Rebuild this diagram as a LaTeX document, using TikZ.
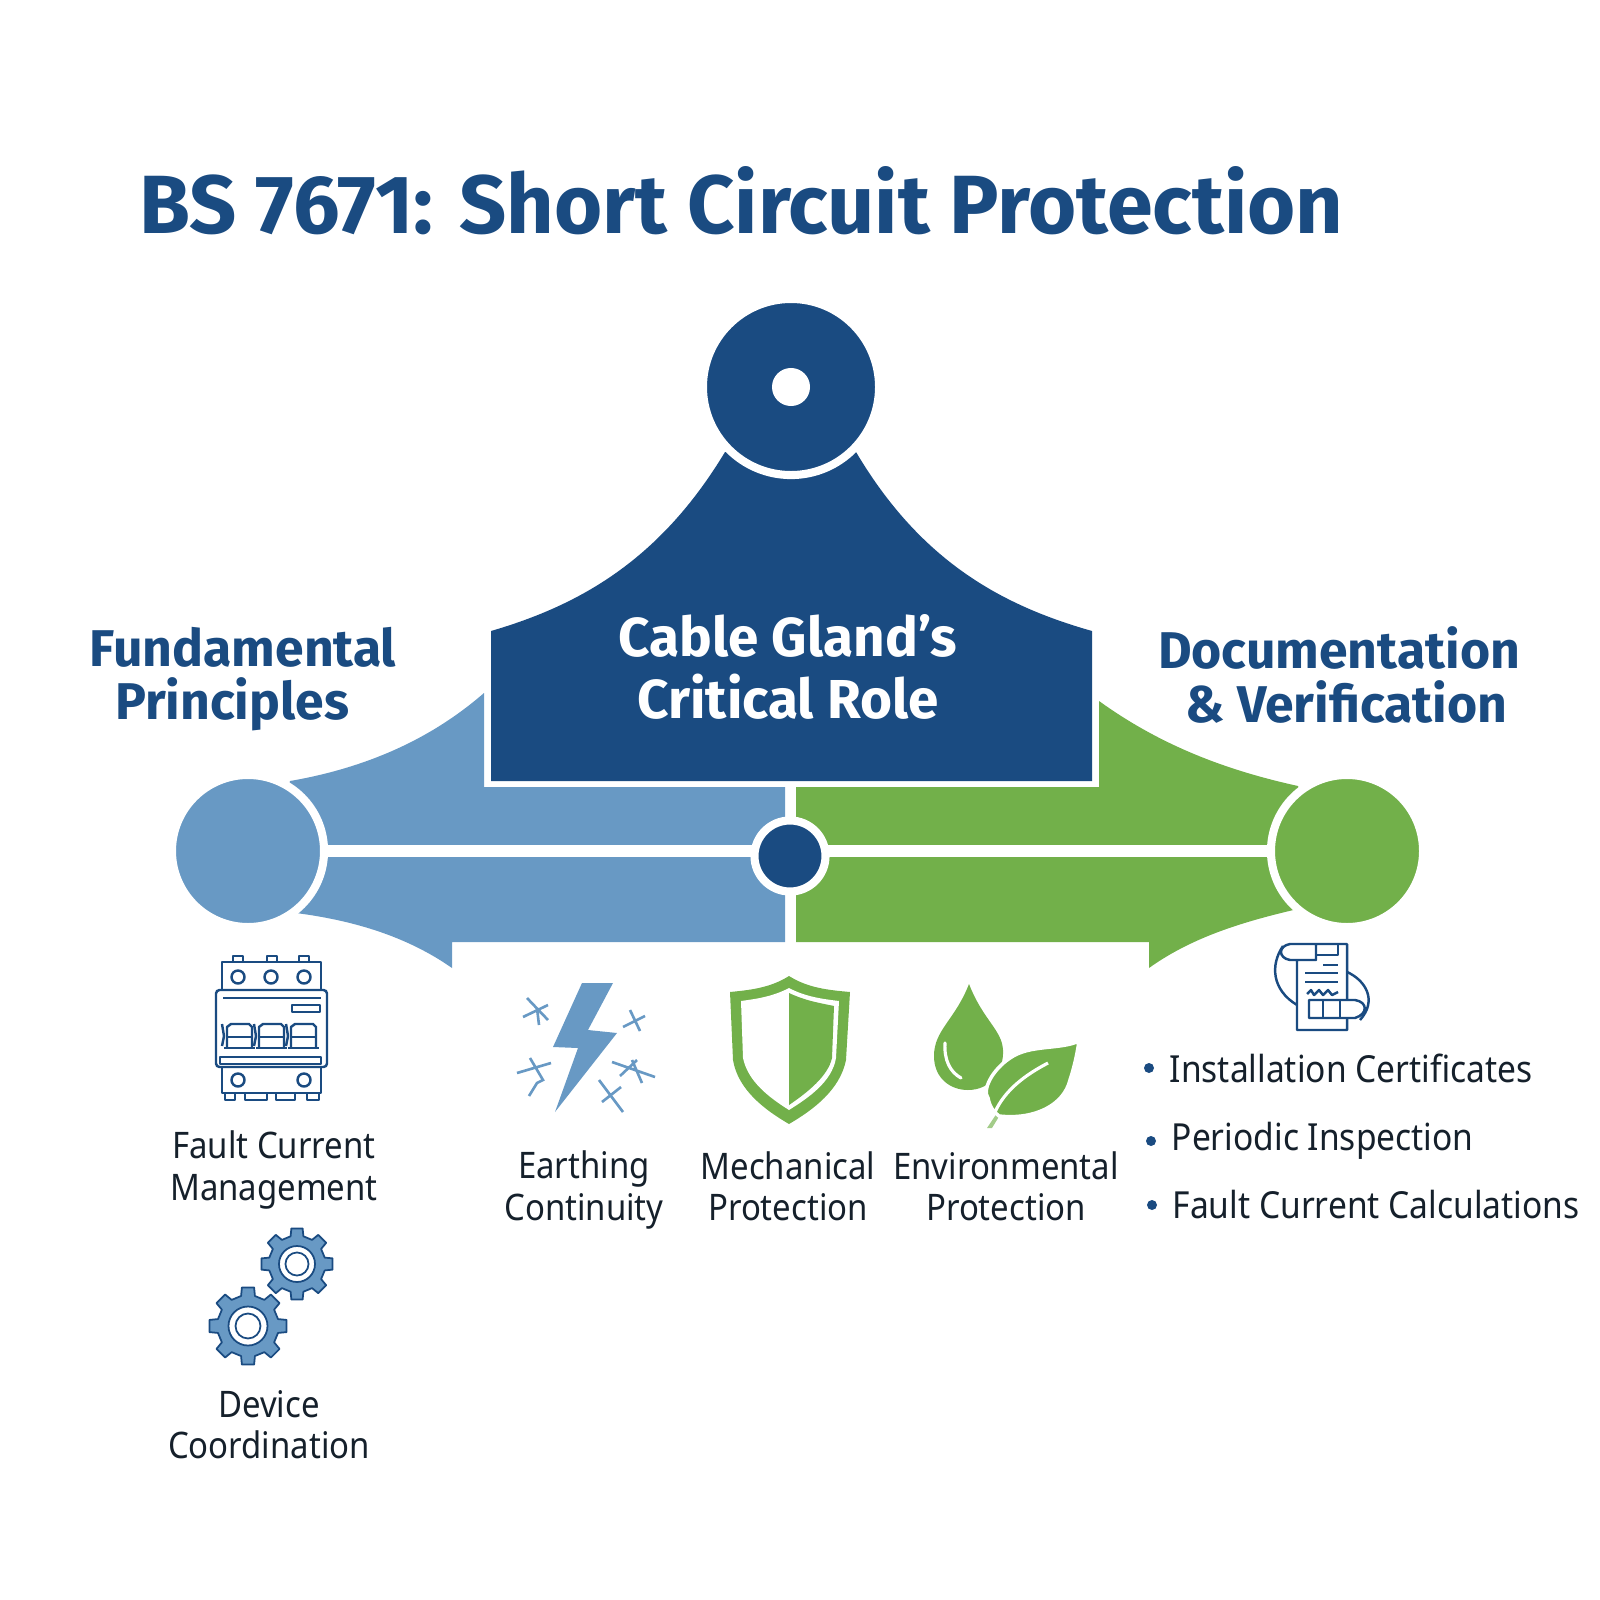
\documentclass[tikz,border=0pt]{standalone}
\usepackage{xcolor}
\usepackage{fontspec}
\setmainfont[FakeStretch=0.9]{Noto Sans}
\newfontfamily\headfont{Fira Sans}
\usepackage{tikz}
\usetikzlibrary{positioning}
\definecolor{DeepNavy}{HTML}{1A4B81}
\definecolor{SteelBlue}{HTML}{6899C4}
\definecolor{LeafGreen}{HTML}{72B04A}
\definecolor{InkBlack}{HTML}{15202B}
\tikzset{
  titletext/.style={font=\headfont\bfseries\fontsize{23.5}{27}\selectfont, text=DeepNavy, inner sep=0pt, anchor=west},
  headtext/.style={font=\headfont\bfseries\fontsize{14.7}{15.2}\selectfont, text=DeepNavy, align=center, inner sep=0pt},
  roletext/.style={font=\headfont\bfseries\fontsize{15.6}{17.4}\selectfont, text=white, align=center, inner sep=0pt},
  itemtext/.style={font=\fontsize{10.4}{11.7}\selectfont, text=InkBlack, align=center, inner sep=0pt},
  listtext/.style={font=\fontsize{10.6}{13}\selectfont, text=InkBlack, anchor=west, inner sep=0pt},
  listdot/.style={circle, fill=DeepNavy, minimum size=0.1cm, inner sep=0pt, outer sep=0pt},
  hub/.style={circle, draw=white, line width=2.3pt, inner sep=0pt, outer sep=0pt},
  gapline/.style={draw=white, line width=3.4pt},
  iconline/.style={draw=DeepNavy, line width=0.7pt, line join=round},
  sparkline/.style={draw=SteelBlue, line width=0.75pt},
  gearbody/.style={fill=SteelBlue, draw=DeepNavy, line width=0.5pt, line join=round},
}
\newcommand{\gearicon}[3]{% x, y, outer radius
  \begin{scope}[shift={(#1,#2)}]
    \draw[gearbody] ({-9}:#3) \foreach \a in {0,45,...,315} {
      -- ({\a-9}:#3) -- ({\a+9}:#3) -- ({\a+13}:#3*0.79) -- ({\a+32}:#3*0.79)} -- cycle;
    \draw[draw=DeepNavy, fill=white, line width=0.5pt] (0,0) circle (#3*0.5);
    \draw[draw=DeepNavy, fill=white, line width=0.5pt] (0,0) circle (#3*0.32);
  \end{scope}
}
\begin{document}
\begin{tikzpicture}[x=0.01cm, y=-0.01cm, node distance=0.15cm]
  \useasboundingbox (0,0) rectangle (1600,1600);
  \node[titletext] (title) at (139,201) {BS 7671: Short Circuit Protection};

  % arrows
  \fill[SteelBlue] (290,781) .. controls (365,768) and (430,740) .. (484,693) -- (484,787) -- (785,787)
    -- (785,942) -- (452,942) -- (452,968) .. controls (405,935) and (350,920) .. (296,913) -- (270,850) -- cycle;
  \fill[LeafGreen] (1298,786) .. controls (1225,770) and (1160,745) .. (1099,701) -- (1099,787) -- (796,787)
    -- (796,942) -- (1149,942) -- (1149,968) .. controls (1195,935) and (1250,920) .. (1302,908) -- (1320,850) -- cycle;
  % gland
  \fill[DeepNavy] (725,452) .. controls (660,560) and (580,605) .. (491,631) -- (491,781) -- (1092,781) -- (1092,631)
    .. controls (1000,605) and (920,560) .. (856,452) -- cycle;

  \node[hub, fill=DeepNavy, minimum size=1.76cm] (topHub) at (791,387) {};
  \node[circle, fill=white, minimum size=0.38cm, inner sep=0pt] (topDot) at (topHub) {};
  \node[hub, fill=SteelBlue, minimum size=1.52cm] (leftHub) at (248,851) {};
  \node[hub, fill=LeafGreen, minimum size=1.52cm] (rightHub) at (1347,851) {};
  \node[hub, fill=DeepNavy, minimum size=0.71cm] (midHub) at (790,856) {};
  \draw[gapline] (leftHub.east) -- (leftHub.east -| midHub.west);
  \draw[gapline] (midHub.east |- rightHub.west) -- (rightHub.west);

  \node[roletext] (role) at (788,667) {Cable Gland’s\\Critical Role};
  \node[headtext] (principles) at (243,679) {Fundamental\\Principles\hspace*{0.22cm}};
  \node[headtext] (records) at (1339,675) {Documentation\\\hspace*{0.15cm}\& Verification};

  % breaker
  \foreach \x in {233,267,299} \draw[iconline] (\x,962) -- (\x,956) -- (\x+10,956) -- (\x+10,962);
  \draw[iconline] (222,962) rectangle (321,990);
  \foreach \x in {238,271,304} \draw[iconline] (\x,977) circle (6.5);
  \draw[iconline, rounded corners=1pt] (216,990) rectangle (327,1067);
  \draw[iconline] (223,998) -- (321,998);
  \draw[iconline] (292,1005) rectangle (320,1012);
  \foreach \x in {227,259,291} {
    \draw[iconline] (\x,1048) -- (\x,1027) -- (\x+4,1024) -- (\x+22,1024) -- (\x+25,1027) -- (\x+25,1048);
    \draw[iconline] (\x,1037) -- (\x+25,1037);
    \draw[iconline] (\x-3,1048) -- (\x+28,1048);
    \draw[iconline] (\x-5,1024) -- (\x-3,1036) -- (\x-5,1046);
  }
  \draw[iconline] (220,1057) rectangle (321,1064);
  \draw[iconline] (222,1067) rectangle (321,1093);
  \foreach \x in {238,304} \draw[iconline] (\x,1080) circle (6.5);
  \foreach \x/\w in {225/10,245/22,276/19,307/12} \draw[iconline] (\x,1093) -- (\x,1100) -- (\x+\w,1100) -- (\x+\w,1093);
  \node[itemtext] (fault) at (274,1170) {Fault Current\\Management};

  \gearicon{297}{1264}{36}
  \gearicon{248}{1326}{39}
  \node[itemtext] (device) at (269,1425) {Device\\Coordination};

  % bolt
  \fill[SteelBlue] (582,983) -- (613,983) -- (588,1030) -- (617,1033) -- (555,1112) -- (578,1048) -- (553,1047) -- cycle;
  \draw[sparkline] (527,998) -- (548,1020) (523,1017) -- (548,1005) (537,1008) -- (539,1025);
  \draw[sparkline] (623,1027) -- (645,1016) (630,1010) -- (640,1031);
  \draw[sparkline] (517,1073) -- (551,1063) (530,1058) -- (543,1080) -- (537,1083) -- (529,1096);
  \draw[sparkline] (612,1062) -- (655,1077) (620,1076) -- (637,1060) (632,1060) -- (642,1083);
  \draw[sparkline] (599,1080) -- (623,1112) (602,1102) -- (621,1087);
  \node[itemtext] (earthing) at (584,1190) {Earthing\\Continuity};

  % shield
  \fill[LeafGreen] (789,976) .. controls (770,988) and (750,990) .. (730,992) -- (733,1060)
    .. controls (738,1090) and (765,1110) .. (789,1124) .. controls (813,1110) and (840,1090) .. (846,1060) -- (850,992)
    .. controls (828,990) and (808,988) .. (789,976) -- cycle;
  \fill[white] (789,988) .. controls (772,997) and (755,999) .. (741,1001) -- (743,1058)
    .. controls (748,1082) and (770,1098) .. (789,1110) .. controls (808,1098) and (832,1082) .. (836,1058) -- (839,1001)
    .. controls (823,999) and (806,997) .. (789,988) -- cycle;
  \fill[LeafGreen] (789,993) .. controls (806,1001) and (820,1003) .. (834,1006) -- (832,1058)
    .. controls (828,1076) and (808,1092) .. (789,1105) -- cycle;
  \node[itemtext] (mechanical) at (788,1186) {Mechanical\\Protection};

  % drop and leaf
  \fill[LeafGreen] (969,984) .. controls (955,1020) and (934,1030) .. (934,1056)
    .. controls (934,1078) and (950,1090) .. (968,1090) .. controls (990,1090) and (1004,1072) .. (1003,1050)
    .. controls (1002,1030) and (983,1020) .. (969,984) -- cycle;
  \draw[white, line width=0.9pt, line cap=round] (945,1043) .. controls (944,1060) and (950,1072) .. (961,1078);
  \fill[LeafGreen!65] (999,1110) -- (987,1128) -- (992,1128) -- (1003,1110) -- cycle;
  \path[fill=LeafGreen, draw=white, line width=1pt] (1079,1041) .. controls (1060,1050) and (1030,1044) .. (1010,1058)
    .. controls (992,1070) and (982,1090) .. (988,1098) .. controls (990,1108) and (994,1112) .. (999,1116)
    .. controls (1035,1120) and (1064,1105) .. (1070,1080) .. controls (1074,1068) and (1077,1055) .. (1079,1041) -- cycle;
  \draw[white, line width=0.9pt] (995,1112) .. controls (1005,1090) and (1025,1075) .. (1048,1063);
  \node[itemtext] (environmental) at (1006,1186) {Environmental\\Protection};

  % document
  \draw[iconline] (1297,960) -- (1297,1030) -- (1347,1030) -- (1347,944) -- (1290,944)
    .. controls (1278,946) and (1278,958) .. (1290,960) -- (1316,960) -- (1316,944);
  \draw[iconline] (1316,955) -- (1338,955) -- (1338,944);
  \draw[iconline] (1323,965) -- (1338,965) (1305,973) -- (1338,973) (1305,982) -- (1338,982);
  \draw[iconline] (1307,994) -- (1311,990) -- (1314,995) -- (1319,990) -- (1323,995) -- (1328,990) -- (1332,995) -- (1338,992);
  \draw[iconline] (1283,946) .. controls (1270,965) and (1272,990) .. (1297,1005);
  \draw[iconline] (1347,972) .. controls (1365,980) and (1378,1000) .. (1360,1020);
  \draw[iconline, fill=white] (1309,1000) -- (1355,1000) .. controls (1368,1002) and (1368,1014) .. (1355,1018) -- (1309,1018) -- cycle;
  \draw[iconline] (1323,1000) -- (1323,1018) (1340,1000) -- (1340,1018);

  % list
  \node[listtext] (certs) at (1169,1068) {Installation Certificates};
  \node[listtext] (inspect) at (1171,1141) {Periodic Inspection};
  \node[listtext] (calcs) at (1172,1205) {Fault Current Calculations};
  \node[listdot, left=of certs] (dotA) {};
  \node[listdot, left=of inspect] (dotB) {};
  \node[listdot, left=of calcs] (dotC) {};
\end{tikzpicture}
\end{document}
